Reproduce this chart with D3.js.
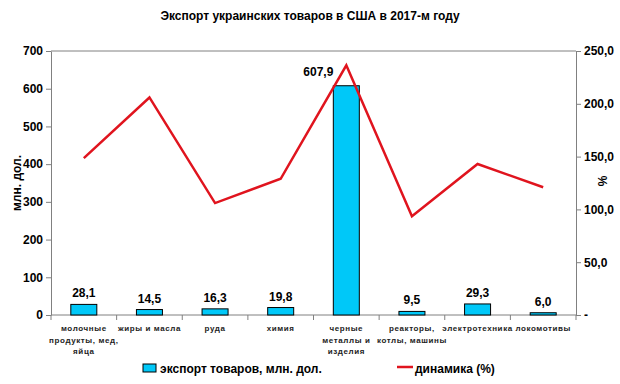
<!DOCTYPE html>
<html>
<head>
<meta charset="utf-8">
<script src="https://cdn.jsdelivr.net/npm/d3@7"></script>
<style>
  body { margin: 0; background: #fff; }
  text { font-family: "Liberation Sans", Arial, sans-serif; }
</style>
</head>
<body>
<div id="chart"></div>
<script>
// data
var categories = [
  ["молочные", "продукты, мед,", "яйца"],
  ["жиры и масла"],
  ["руда"],
  ["химия"],
  ["черные", "металлы и", "изделия"],
  ["реакторы,", "котлы, машины"],
  ["электротехника"],
  ["локомотивы"]
];
var exportValues = [28.1, 14.5, 16.3, 19.8, 607.9, 9.5, 29.3, 6.0];
var dynamics = [148.5, 206, 106, 129, 236.5, 93.5, 143, 121];
var leftTicks = [0, 100, 200, 300, 400, 500, 600, 700];
var rightTicks = [0, 50, 100, 150, 200, 250];

var W = 620, H = 384;
var margin = {top: 51, right: 44, bottom: 69, left: 51},
    width = W - margin.left - margin.right,
    height = H - margin.top - margin.bottom;

var svg = d3.select("#chart")
  .append("svg")
    .attr("width", W)
    .attr("height", H);

var g = svg.append("g")
    .attr("transform", "translate(" + margin.left + "," + margin.top + ")");

var fmt = function(v) { return d3.format(".1f")(v).replace(".", ","); };

// scales
var x = d3.scaleBand()
  .domain(d3.range(categories.length))
  .range([0, width]);
var y = d3.scaleLinear().domain([0, 700]).range([height, 0]);
var y2 = d3.scaleLinear().domain([0, 250]).range([height, 0]);

// title
svg.append("text")
  .attr("x", 310).attr("y", 20)
  .attr("text-anchor", "middle")
  .style("font-size", "12px").style("font-weight", "bold")
  .text("Экспорт украинских товаров в США в 2017-м году");

// top border of plot area
g.append("line")
  .attr("x1", 0).attr("x2", width)
  .attr("y1", 0).attr("y2", 0)
  .attr("stroke", "#808080");

// left axis
var yAxis = g.append("g")
  .call(d3.axisLeft(y).tickValues(leftTicks).tickSize(5).tickSizeOuter(0));
yAxis.select(".domain").attr("stroke", "#808080");
yAxis.selectAll(".tick line").attr("stroke", "#808080");
yAxis.selectAll("text")
  .style("font-size", "12px").style("font-weight", "bold")
  .attr("fill", "#000").attr("x", -8);

// right axis
var y2Axis = g.append("g")
  .attr("transform", "translate(" + width + ",0)")
  .call(d3.axisRight(y2).tickValues(rightTicks).tickSize(5).tickSizeOuter(0)
    .tickFormat(function(d) { return d === 0 ? "-" : fmt(d); }));
y2Axis.select(".domain").attr("stroke", "#808080");
y2Axis.selectAll(".tick line").attr("stroke", "#808080");
y2Axis.selectAll("text")
  .style("font-size", "12px").style("font-weight", "bold")
  .attr("fill", "#000").attr("x", 8);

// x axis
var xAxis = g.append("g")
  .attr("transform", "translate(0," + height + ")");
xAxis.append("line")
  .attr("x1", 0).attr("x2", width)
  .attr("stroke", "#808080");
xAxis.selectAll(".xt")
  .data(d3.range(categories.length + 1))
  .enter()
  .append("line")
    .attr("x1", function(d) { return d * x.step(); })
    .attr("x2", function(d) { return d * x.step(); })
    .attr("y1", 0).attr("y2", 5)
    .attr("stroke", "#808080");

// category labels
var cat = xAxis.selectAll(".cat")
  .data(categories)
  .enter()
  .append("text")
    .attr("text-anchor", "middle")
    .attr("transform", function(d, i) { return "translate(" + (x(i) + x.bandwidth() / 2) + ",16)"; })
    .style("font-size", "8px").style("font-weight", "bold")
    .style("letter-spacing", "0.6px")
    .attr("fill", "#222");
cat.selectAll("tspan")
  .data(function(d) { return d; })
  .enter()
  .append("tspan")
    .attr("x", 0)
    .attr("dy", function(d, i) { return i === 0 ? 0 : 11.5; })
    .text(function(d) { return d; });

// axis titles
svg.append("text")
  .attr("transform", "translate(21," + (margin.top + height / 2) + ") rotate(-90)")
  .attr("text-anchor", "middle")
  .style("font-size", "12px").style("font-weight", "bold")
  .text("млн. дол.");
svg.append("text")
  .attr("transform", "translate(607," + (margin.top + 130) + ") rotate(-90)")
  .attr("text-anchor", "middle")
  .style("font-size", "12px").style("font-weight", "bold")
  .text("%");

// bars
var barW = 26;
g.selectAll(".bar")
  .data(exportValues)
  .enter()
  .append("rect")
    .attr("x", function(d, i) { return x(i) + x.bandwidth() / 2 - barW / 2; })
    .attr("y", function(d) { return y(d); })
    .attr("width", barW)
    .attr("height", function(d) { return height - y(d); })
    .attr("fill", "#00c8f8")
    .attr("stroke", "#000")
    .attr("stroke-width", 1);

// value labels
g.selectAll(".val")
  .data(exportValues)
  .enter()
  .append("text")
    .attr("text-anchor", "middle")
    .attr("x", function(d, i) { return x(i) + x.bandwidth() / 2 + (d > 500 ? -28 : 0); })
    .attr("y", function(d) { return y(d) - (d > 500 ? 9.5 : 7); })
    .style("font-size", "12px").style("font-weight", "bold")
    .text(function(d) { return fmt(d); });

// line
var line = d3.line()
  .x(function(d, i) { return x(i) + x.bandwidth() / 2; })
  .y(function(d) { return y2(d); });
g.append("path")
  .datum(dynamics)
  .attr("d", line)
  .attr("fill", "none")
  .attr("stroke", "#e0141e")
  .attr("stroke-width", 2.5);

// legend
var leg = svg.append("g");
leg.append("rect")
  .attr("x", 143).attr("y", 364)
  .attr("width", 13).attr("height", 8)
  .attr("fill", "#00c8f8").attr("stroke", "#000");
leg.append("text")
  .attr("x", 160).attr("y", 372.5)
  .style("font-size", "12px").style("font-weight", "bold")
  .text("экспорт товаров, млн. дол.");
leg.append("line")
  .attr("x1", 397).attr("x2", 413)
  .attr("y1", 367).attr("y2", 367)
  .attr("stroke", "#e0141e").attr("stroke-width", 2.5);
leg.append("text")
  .attr("x", 415).attr("y", 372.5)
  .style("font-size", "12px").style("font-weight", "bold")
  .text("динамика (%)");
</script>
</body>
</html>
